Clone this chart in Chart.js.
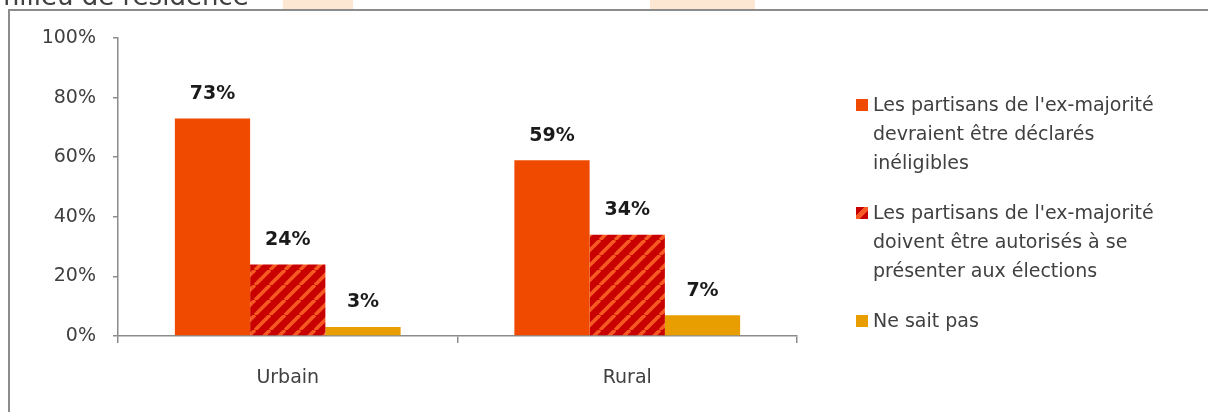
<!DOCTYPE html>
<html><head><meta charset="utf-8">
<script src="https://cdn.jsdelivr.net/npm/chart.js@4"></script>
<style>
html,body{margin:0;padding:0;background:#fff;}
#wrap{position:relative;width:1208px;height:412px;overflow:hidden;}
#c{position:absolute;left:0;top:0;}
#legend{position:absolute;left:856px;top:90px;font-family:"DejaVu Sans",sans-serif;font-size:19px;color:#404040;line-height:29px;}
.item{position:relative;padding-left:17px;margin-bottom:21px;}
.sw{position:absolute;left:0;top:9px;width:12px;height:12px;}
</style></head><body>
<div id="wrap"><canvas id="c" width="1208" height="412"></canvas><div id="legend"></div></div>
<script>
const categories = ["Urbain", "Rural"];
const seriesNames = [
  ["Les partisans de l'ex-majorité", "devraient être déclarés", "inéligibles"],
  ["Les partisans de l'ex-majorité", "doivent être autorisés à se", "présenter aux élections"],
  ["Ne sait pas"]
];
const ineligibles = [73, 59];
const autorises = [24, 34];
const neSaitPas = [3, 7];
const yTicks = [0, 20, 40, 60, 80, 100];

function stripes(){
  const n = 15;
  const t = document.createElement('canvas'); t.width = n; t.height = n;
  const g = t.getContext('2d');
  g.fillStyle = '#c80000'; g.fillRect(0,0,n,n);
  g.strokeStyle = '#f65a22'; g.lineWidth = 3.6;
  for (const o of [-n, 0, n]) { g.beginPath(); g.moveTo(o, n); g.lineTo(o+n, 0); g.stroke(); }
  return document.getElementById('c').getContext('2d').createPattern(t, 'repeat');
}
const pat = stripes();
const colors = ['#ef4a00', pat, '#e89e00'];

const frame = {
  id:'frame',
  beforeDraw(chart){
    const ctx = chart.ctx;
    ctx.save();
    ctx.fillStyle = '#fde6d2';
    ctx.fillRect(283,0,70,9); ctx.fillRect(650,0,105,9);
    ctx.fillStyle = '#404040';
    ctx.font = '26px "DejaVu Sans", sans-serif';
    ctx.textBaseline = 'alphabetic';
    ctx.fillText('milieu de résidence', -6, 5);
    ctx.strokeStyle = '#8c8c8c'; ctx.lineWidth = 2;
    ctx.beginPath(); ctx.moveTo(9, 412); ctx.lineTo(9, 10); ctx.lineTo(1208, 10); ctx.stroke();
    ctx.restore();
  }
};
const labels = {
  id:'labels',
  afterDatasetsDraw(chart){
    const ctx = chart.ctx;
    ctx.save();
    ctx.font = 'bold 19px "DejaVu Sans", sans-serif';
    ctx.fillStyle = '#1a1a1a'; ctx.textAlign = 'center'; ctx.textBaseline = 'bottom';
    chart.data.datasets.forEach((ds, i) => {
      chart.getDatasetMeta(i).data.forEach((bar, j) => {
        ctx.fillText(ds.data[j] + '%', bar.x, bar.y - 15);
      });
    });
    ctx.restore();
  }
};

new Chart(document.getElementById('c'), {
  type:'bar',
  data:{
    labels: categories,
    datasets:[
      {label: seriesNames[0].join(' '), data: ineligibles, backgroundColor: colors[0]},
      {label: seriesNames[1].join(' '), data: autorises, backgroundColor: colors[1]},
      {label: seriesNames[2].join(' '), data: neSaitPas, backgroundColor: colors[2]}
    ]
  },
  options:{
    responsive:false, animation:false,
    layout:{padding:{left:0,right:411,top:38,bottom:0}},
    datasets:{bar:{categoryPercentage:0.665, barPercentage:1}},
    plugins:{legend:{display:false}, tooltip:{enabled:false}},
    scales:{
      x:{
        grid:{offset:true, drawOnChartArea:false, drawTicks:true, tickLength:7, color:'#8c8c8c', lineWidth:1.5},
        border:{color:'#8c8c8c', width:1.5},
        ticks:{font:{family:'"DejaVu Sans", sans-serif', size:19}, color:'#404040', padding:24},
        afterFit(s){ s.height = 76; }
      },
      y:{
        min:0, max:100,
        afterBuildTicks(s){ s.ticks = yTicks.map(v => ({value:v})); },
        grid:{drawOnChartArea:false, drawTicks:true, tickLength:5, color:'#8c8c8c', lineWidth:1.5},
        border:{color:'#8c8c8c', width:1.5},
        ticks:{font:{family:'"DejaVu Sans", sans-serif', size:19}, color:'#404040', padding:17, callback:v => v + '%'},
        afterFit(s){ s.width = 118; }
      }
    }
  },
  plugins:[frame, labels]
});

const lg = document.getElementById('legend');
const swatch = ['#ef4a00', 'linear-gradient(135deg,#c80000 0 35%,#f65a22 35% 65%,#c80000 65%)', '#e89e00'];
seriesNames.forEach((lines, i) => {
  const d = document.createElement('div'); d.className = 'item';
  const s = document.createElement('span'); s.className = 'sw'; s.style.background = swatch[i];
  d.appendChild(s);
  lines.forEach((l, k) => { if (k) d.appendChild(document.createElement('br')); d.appendChild(document.createTextNode(l)); });
  lg.appendChild(d);
});
</script>
</body></html>
